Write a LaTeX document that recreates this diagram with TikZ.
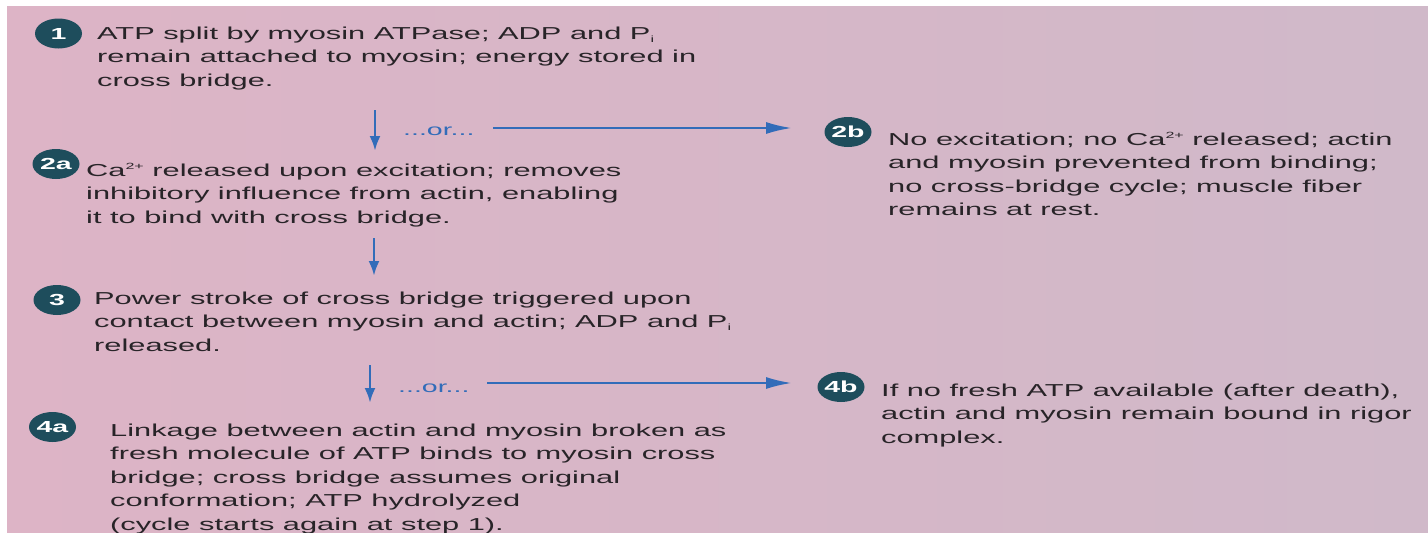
\documentclass[tikz,border=0pt]{standalone}
\usepackage{fontspec}
\setmainfont{Liberation Sans}[FakeStretch=1.78]
\usetikzlibrary{arrows.meta,shapes.geometric}
\definecolor{bgL}{RGB}{221,180,198}
\definecolor{bgR}{RGB}{208,185,201}
\definecolor{badge}{RGB}{30,77,92}
\definecolor{arrowblue}{RGB}{50,108,185}
\definecolor{txt}{RGB}{40,36,40}
\newcommand\subi{\raisebox{-0.35ex}{\fontsize{9}{9}\selectfont i}}
\newcommand\catwo{Ca\raisebox{0.75ex}{\fontsize{9}{9}\selectfont 2+}}
\newcommand\lns[1]{\begin{tabular}[t]{@{}l@{}}#1\end{tabular}}
\tikzset{
  badgebox/.style={ellipse, fill=badge, minimum width=47pt, minimum height=30pt,
    inner sep=0pt, text=white, font=\fontsize{16}{16}\selectfont\bfseries},
  stepbox/.style={anchor=base west, inner sep=0pt, text=txt,
    font=\fontsize{17.3}{23.5}\selectfont},
  orbox/.style={anchor=base west, inner sep=0pt, text=arrowblue,
    font=\fontsize{16}{16}\selectfont},
  downarrow/.style={draw=arrowblue, line width=2.8pt, -{Latex[length=15pt,width=11pt]}},
  sidearrow/.style={draw=arrowblue, line width=2.4pt, -{Latex[length=26pt,width=12pt]}},
}
\begin{document}
\begin{tikzpicture}[x=1pt,y=-1pt]
\useasboundingbox (0,0) rectangle (1428,533);
\fill[white] (0,0) rectangle (1428,533);
\shade[left color=bgL, right color=bgR] (7,6) rectangle (1428,533);

% left column
\node[badgebox] (b1) at (58.5,33.5) {1};
\node[stepbox] (t1) at (97,39) {\lns{ATP split by myosin ATPase; ADP and P\subi\\
  remain attached to myosin; energy stored in\\ cross bridge.}};

\node[badgebox] (b2a) at (56,164) {2a};
\node[stepbox] (t2a) at (86,176) {\lns{\catwo\ released upon excitation; removes\\
  inhibitory influence from actin, enabling\\ it to bind with cross bridge.}};

\node[badgebox] (b3) at (57,300) {3};
\node[stepbox] (t3) at (94,304) {\lns{Power stroke of cross bridge triggered upon\\
  contact between myosin and actin; ADP and P\subi\\ released.}};

\node[badgebox] (b4a) at (52.5,427) {4a};
\node[stepbox] (t4a) at (110,436) {\lns{Linkage between actin and myosin broken as\\
  fresh molecule of ATP binds to myosin cross\\ bridge; cross bridge assumes original\\
  conformation; ATP hydrolyzed\\ (cycle starts again at step 1).}};

% right column
\node[badgebox] (b2b) at (848,132) {2b};
\node[stepbox] (t2b) at (888,145) {\lns{No excitation; no \catwo\ released; actin\\
  and myosin prevented from binding;\\ no cross-bridge cycle; muscle fiber\\ remains at rest.}};

\node[badgebox] (b4b) at (841,387) {4b};
\node[stepbox] (t4b) at (881,396) {\lns{If no fresh ATP available (after death),\\
  actin and myosin remain bound in rigor\\ complex.}};

% or labels
\node[orbox] (or1) at (403,135) {...or...};
\node[orbox] (or2) at (398,392) {...or...};

% connector end points
\coordinate (d1s) at (375,110);
\coordinate (d1e) at (375,151);
\coordinate (d2s) at (374,238);
\coordinate (d2e) at (374,276);
\coordinate (d3s) at (370,365);
\coordinate (d3e) at (370,403);
\coordinate (h1s) at (493,128);
\coordinate (h1e) at (792,128);
\coordinate (h2s) at (487,383);
\coordinate (h2e) at (792,383);

\draw[downarrow] (d1s) -- (d1e);
\draw[downarrow] (d2s) -- (d2e);
\draw[downarrow] (d3s) -- (d3e);
\draw[sidearrow] (h1s) -- (h1e);
\draw[sidearrow] (h2s) -- (h2e);
\end{tikzpicture}
\end{document}
